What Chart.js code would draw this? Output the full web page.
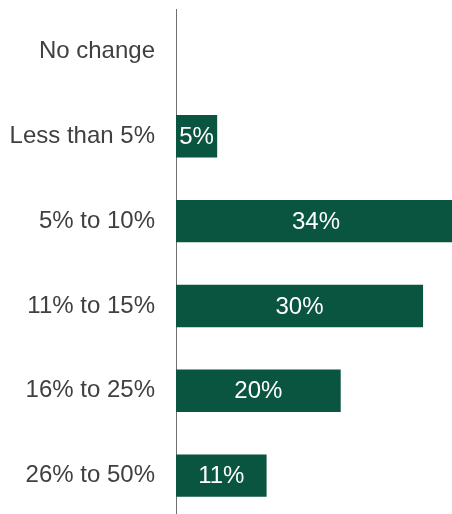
<!DOCTYPE html>
<html>
<head>
<meta charset="utf-8">
<script src="https://cdn.jsdelivr.net/npm/chart.js@4/dist/chart.umd.min.js"></script>
<style>
  html, body { margin: 0; padding: 0; background: #fff; overflow: hidden; }
  canvas { display: block; }
</style>
</head>
<body>
<canvas id="chart" width="456" height="520"></canvas>
<script>
// share of respondents by size of change
const categories = ['No change', 'Less than 5%', '5% to 10%', '11% to 15%', '16% to 25%', '26% to 50%'];
const shares = [0, 5, 34, 30, 20, 11];

const FONT = '"Liberation Sans", Arial, sans-serif';

// writes each value in white in the middle of its bar
const barLabels = {
    id: 'barLabels',
    afterDatasetsDraw(chart) {
        const ctx = chart.ctx;
        const meta = chart.getDatasetMeta(0);
        ctx.save();
        ctx.font = '24px ' + FONT;
        ctx.fillStyle = '#ffffff';
        ctx.textAlign = 'center';
        ctx.textBaseline = 'middle';
        meta.data.forEach(function(bar, i) {
            const v = shares[i];
            if (!v) return;
            const x = (bar.base + bar.x) / 2;
            ctx.fillText(v + '%', x, bar.y + 1);
        });
        ctx.restore();
    }
};

new Chart(document.getElementById('chart').getContext('2d'), {
    type: 'bar',
    data: {
        labels: categories,
        datasets: [{
            data: shares,
            backgroundColor: '#095540',
            borderWidth: 0,
            barPercentage: 0.5,
            categoryPercentage: 1
        }]
    },
    options: {
        indexAxis: 'y',
        responsive: false,
        animation: false,
        devicePixelRatio: 1,
        layout: { padding: { top: 9, bottom: 2, left: 0, right: 0 } },
        scales: {
            x: {
                display: false,
                min: 0,
                max: 34
            },
            y: {
                afterFit: function(scale) {
                    // fixed label column, no extra room above/below the labels
                    scale.width = 176;
                    scale.paddingTop = 0;
                    scale.paddingBottom = 0;
                },
                grid: { display: false, drawTicks: false },
                border: { display: true, color: '#6f6f6f', width: 1 },
                ticks: {
                    padding: 21,
                    color: '#404040',
                    font: { family: FONT, size: 24 }
                }
            }
        },
        plugins: {
            legend: { display: false },
            tooltip: { enabled: false }
        }
    },
    plugins: [barLabels]
});
</script>
</body>
</html>
